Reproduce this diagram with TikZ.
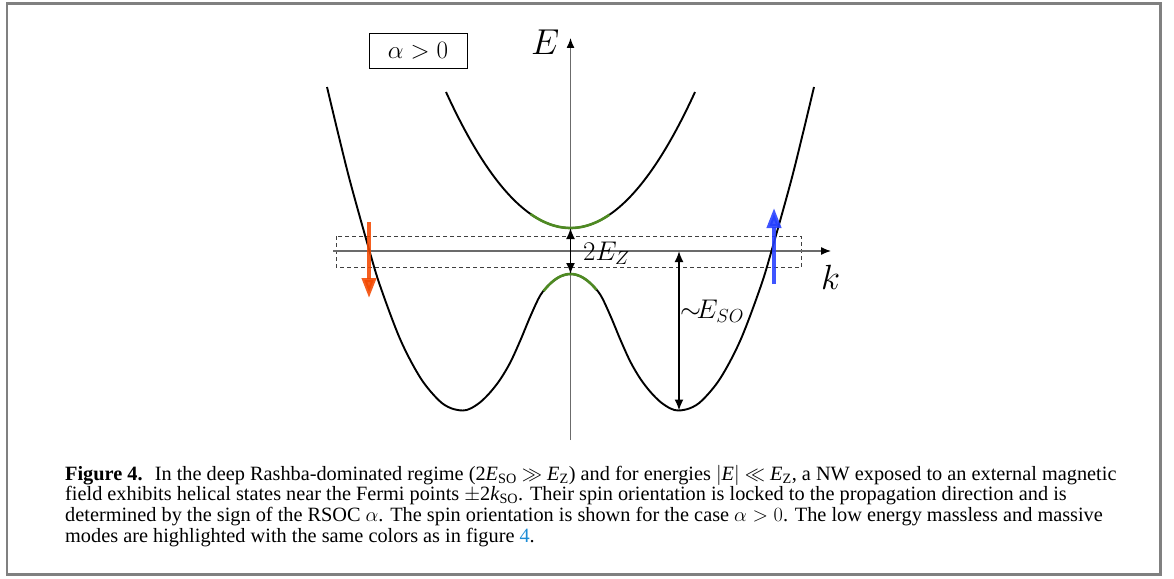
\RequirePackage{fix-cm}
\documentclass[tikz,border=0pt]{standalone}
\usepackage[no-math]{fontspec}
\setmainfont{Liberation Serif}
\usetikzlibrary{arrows.meta}
\definecolor{framegray}{gray}{0.5}
\definecolor{axisgray}{gray}{0.42}
\definecolor{bandgreen}{RGB}{78,138,34}
\definecolor{spinred}{RGB}{242,72,0}
\definecolor{spinblue}{RGB}{36,62,255}
\definecolor{linkblue}{RGB}{28,140,214}
\tikzset{
  band/.style={black, line width=1.9},
  lowmode/.style={bandgreen, line width=2.6},
  axisline/.style={axisgray, line width=1.3, -{Latex[length=10,width=8,color=black]}},
  gaparrow/.style={black, line width=1.8, {Latex[length=11,width=9]}-{Latex[length=11,width=9]}},
  spinarrow/.style={line width=4, opacity=0.88, -{Triangle[length=20,width=14]}},
  window/.style={draw=black!75, line width=1, dash pattern=on 4pt off 3pt},
  lab/.style={inner sep=0, anchor=base west},
  captext/.style={inner sep=0, anchor=base west, text height=13, text depth=3.5,
                  font=\fontsize{20.3}{23}\selectfont},
}
\begin{document}
\begin{tikzpicture}[x=1pt,y=-1pt]
\useasboundingbox (0,0) rectangle (1174,578);
\draw[framegray, line width=2.6] (7,3.5) rectangle (1160.5,574.5);

% energy window
\draw[window] (336,236) rectangle (801.5,267);

% axes
\coordinate (Ebot) at (570.5,440);
\coordinate (Etop) at (570.5,38);
\coordinate (kleft) at (333,251);
\coordinate (kright) at (831,251);
\draw[axisline] (Ebot) -- (Etop);
\draw[axisline] (kleft) -- (kright);
\node[lab, font=\fontsize{36}{40}\selectfont] (Elab) at (531,55) {$E$};
\node[lab, font=\fontsize{35}{40}\selectfont] (klab) at (821,289) {$k$};

% alpha box
\node[draw, line width=1, minimum width=98, minimum height=34, inner sep=0,
      font=\fontsize{25}{30}\selectfont] (alpha) at (418,51) {$\alpha > 0$};

% upper band
\draw[band] plot[domain=-124.5:124.5, samples=120] ({570.5+\x}, {228 - 0.008774*\x*\x});
\draw[lowmode] plot[domain=-40:39, samples=40] ({570.5+\x}, {228 - 0.008774*\x*\x});

% lower band
\draw[band] plot[smooth, tension=0.55] coordinates {
 (327,87) (338.5,135) (350.5,183) (369.5,251) (380.5,287) (400.5,340) (420.5,378)
 (438.5,400) (450.5,408) (462.5,410.5) (470.5,408.5) (480.5,402) (490.5,392)
 (500.5,379) (510.5,362) (520.5,340) (530.5,316) (540.5,295) (550.5,283.4)
 (560.5,276.4) (570.5,274) (580.5,276.4) (590.5,283.4) (600.5,295) (610.5,316)
 (620.5,340) (630.5,362) (640.5,379) (650.5,392) (660.5,402) (670.5,408.5)
 (678.5,410.5) (690.5,408) (702.5,400) (720.5,378) (740.5,340) (760.5,287)
 (771.5,251) (790.5,183) (802.5,135) (814,87)};
\draw[lowmode] plot[domain=-27:26, samples=40] ({570.5+\x}, {274 + 0.0235*\x*\x});

% gap arrows
\coordinate (upmin) at (570.5,228);
\coordinate (lowtop) at (570.5,274);
\coordinate (soTop) at (679,251);
\coordinate (soMin) at (679,410.5);
\draw[gaparrow] (upmin) -- (lowtop);
\draw[gaparrow] (soTop) -- (soMin);
\node[lab, font=\fontsize{27}{30}\selectfont] (ezlab) at (583,260) {$2E_Z$};
\node[lab, font=\fontsize{27}{30}\selectfont] (esolab) at (680,318) {${\sim}\!E_{SO}$};

% spins
\coordinate (downS) at (369,222);
\coordinate (downE) at (369,298);
\coordinate (upS) at (774,284);
\coordinate (upE) at (774,208);
\draw[spinarrow, spinred] (downS) -- (downE);
\draw[spinarrow, spinblue] (upS) -- (upE);

% caption
\node[captext] (c1) at (65,480) {\textbf{Figure 4.}\hspace{0.6em}In the deep Rashba-dominated regime (2\textit{E}\textsubscript{SO} $\gg$ \textit{E}\textsubscript{Z}) and for energies $|$\textit{E}$|$ $\ll$ \textit{E}\textsubscript{Z}, a NW exposed to an external magnetic};
\node[captext] (c2) at (65,500.5) {field exhibits helical states near the Fermi points $\pm$2\textit{k}\textsubscript{SO}. Their spin orientation is locked to the propagation direction and is};
\node[captext] (c3) at (65,521.5) {determined by the sign of the RSOC $\alpha$. The spin orientation is shown for the case $\alpha > 0$. The low energy massless and massive};
\node[captext] (c4) at (65,542) {modes are highlighted with the same colors as in figure \textcolor{linkblue}{4}.};
\end{tikzpicture}
\end{document}
